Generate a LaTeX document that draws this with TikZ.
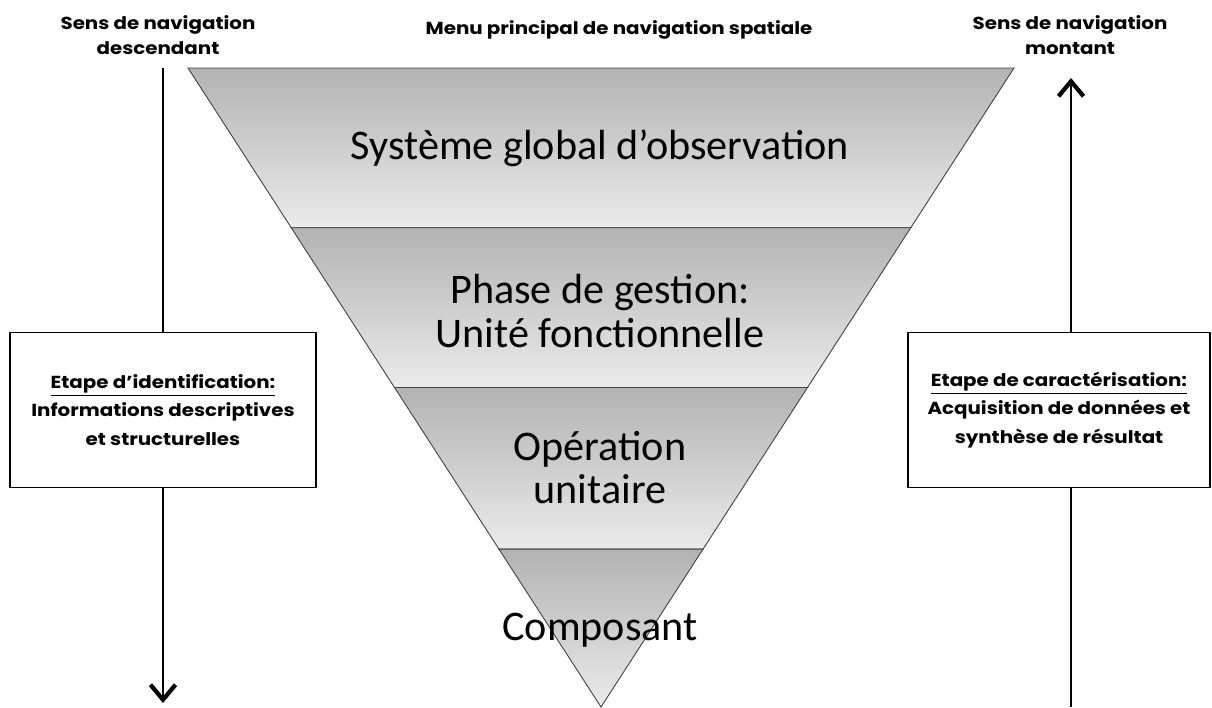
\documentclass[tikz,border=0pt]{standalone}
\usepackage{fontspec}
\setmainfont{Carlito}
\newfontfamily\roundfont[FakeStretch=1.14]{Poppins}
\usetikzlibrary{arrows.meta,positioning,calc}
\tikzset{
  band/.style={draw=black!75, line width=0.5pt, top color=black!30, bottom color=black!8},
  bandtext/.style={align=center, font=\fontsize{24}{24.5}\selectfont},
  toplabel/.style={align=center, font=\roundfont\bfseries\fontsize{9.9}{14}\selectfont},
  stagebox/.style={draw, line width=1.1pt, fill=white, align=center, minimum height=3.1cm, font=\roundfont\bfseries\fontsize{9.9}{16.4}\selectfont},
  navline/.style={line width=1.6pt},
  navarrow/.style={line width=1.6pt, -{Straight Barb[length=3mm, width=5mm, line width=2.4pt]}}
}
\begin{document}
\begin{tikzpicture}[x=0.02cm, y=-0.02cm]
  \useasboundingbox (0,0) rectangle (1212,707);
  \coordinate (tl) at (188,68);
  \coordinate (tr) at (1014,68);
  \coordinate (apex) at (601,707);
  \coordinate (l1) at ($(tl)!0.25!(apex)$);
  \coordinate (r1) at ($(tr)!0.25!(apex)$);
  \coordinate (l2) at ($(tl)!0.5!(apex)$);
  \coordinate (r2) at ($(tr)!0.5!(apex)$);
  \coordinate (l3) at ($(tl)!0.753!(apex)$);
  \coordinate (r3) at ($(tr)!0.753!(apex)$);
  \path[band] (tl) -- (tr) -- (r1) -- (l1) -- cycle;
  \path[band] (l1) -- (r1) -- (r2) -- (l2) -- cycle;
  \path[band] (l2) -- (r2) -- (r3) -- (l3) -- cycle;
  \path[band] (l3) -- (r3) -- (apex) -- cycle;
  \node[bandtext] (sys) at (600,148) {Système global d’observation};
  \node[bandtext] (phase) at (600,311) {Phase de gestion:\\Unité fonctionnelle};
  \node[bandtext] (oper) at (600,468) {Opération\\unitaire};
  \node[bandtext] (comp) at (600,630) {Composant};
  \node[toplabel] (desc) at (158,35) {Sens de navigation\\descendant};
  \node[toplabel] (menu) at (619,30) {Menu principal de navigation spatiale};
  \node[toplabel] (mont) at (1070,35) {Sens de navigation\\montant};
  \node[stagebox, minimum width=6.12cm] (ident) at (163,410) {\underline{Etape d’identification:}\\Informations descriptives\\et structurelles};
  \node[stagebox, minimum width=6.04cm] (carac) at (1059,410) {\underline{Etape de caractérisation:}\\Acquisition de données et\\synthèse de résultat};
  \coordinate (ltop) at (163,68);
  \coordinate (lbot) at (163,703);
  \coordinate (rbot) at (1071,707);
  \coordinate (rtop) at (1071,78);
  \draw[navline] (ltop) -- (ident.north);
  \draw[navarrow] (ident.south) -- (lbot);
  \draw[navline] (rbot) -- (rbot |- carac.south);
  \draw[navarrow] (rbot |- carac.north) -- (rtop);
\end{tikzpicture}
\end{document}
